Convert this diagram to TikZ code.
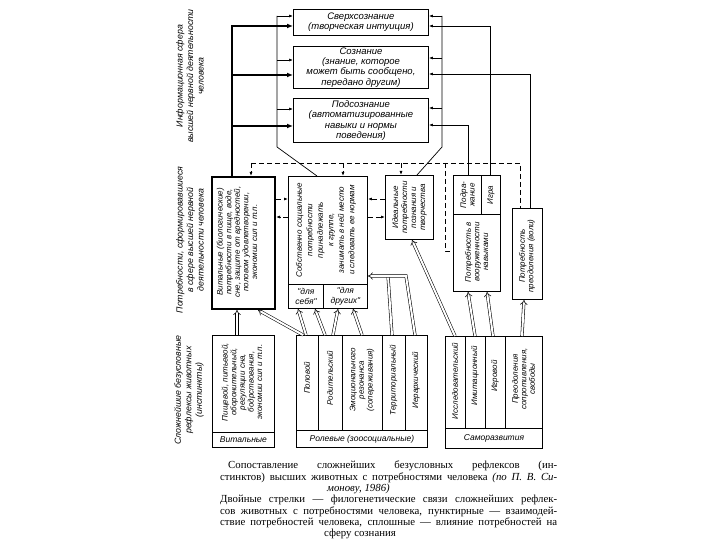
\documentclass[tikz,border=0pt]{standalone}
\usepackage{fontspec}
\setmainfont{Liberation Serif}
\newfontfamily\dfont{Liberation Sans}
\usetikzlibrary{arrows.meta}
\begin{document}
\begin{tikzpicture}[x=1pt,y=-1pt,
  box/.style={draw, line width=0.9pt, inner sep=0pt, anchor=north west},
  rt/.style={rotate=90, align=center, inner sep=0pt, font=\dfont\itshape\fontsize{8}{8.6}\selectfont},
  ht/.style={align=center, inner sep=0pt, font=\dfont\itshape\fontsize{9.5}{10.2}\selectfont},
  lab/.style={inner sep=0pt, font=\dfont\itshape\fontsize{8.5}{9}\selectfont},
  side/.style={rotate=90, align=center, inner sep=0pt, font=\dfont\itshape\fontsize{8.8}{10.5}\selectfont},
  thn/.style={line width=0.7pt},
  tip/.style={-{Latex[length=4pt,width=3pt]}},
  thk/.style={line width=1.8pt, -{Latex[length=6pt,width=5pt]}},
  dsh/.style={line width=0.8pt, dash pattern=on 5pt off 3pt},
  dbl/.style={double, double distance=2pt, line width=0.55pt, -{Implies}},
  dbln/.style={double, double distance=2pt, line width=0.55pt}
]
\path[use as bounding box, fill=white] (0,0) rectangle (720,540);

% ---------- top boxes ----------
\node[box, minimum width=135pt, minimum height=26pt] (sup) at (293,9) {};
\node[ht] (tsup) at (sup.center) {Сверхсознание\\(творческая интуиция)};
\node[box, minimum width=135pt, minimum height=42pt] (con) at (293,46) {};
\node[ht] (tcon) at (con.center) {Сознание\\(знание, которое\\может быть сообщено,\\передано другим)};
\node[box, minimum width=135pt, minimum height=44pt] (sub) at (293,98) {};
\node[ht] (tsub) at (sub.center) {Подсознание\\(автоматизированные\\навыки и нормы\\поведения)};

% ---------- middle row ----------
\node[box, line width=2pt, minimum width=63pt, minimum height=132pt] (vit) at (211,176) {};
\node[rt] (tvit) at (237,242) {Витальные (биологические)\\потребности в пище, воде,\\сне, защите от вредностей,\\половом удовлетворении,\\экономии сил и т.п.};

\node[box, minimum width=79pt, minimum height=132pt] (soc) at (288,176) {};
\node[box, minimum width=35pt, minimum height=24pt] (sself) at (288,284) {};
\node[box, minimum width=44pt, minimum height=24pt] (sother) at (323,284) {};
\node[ht, font=\dfont\itshape\fontsize{8.5}{9.5}\selectfont] (tsself) at (sself.center) {"для\\себя"};
\node[ht, font=\dfont\itshape\fontsize{8.5}{9.5}\selectfont] (tsother) at (sother.center) {"для\\других"};
\node[rt, font=\dfont\itshape\fontsize{8}{10.5}\selectfont] (tsoc) at (326,230) {Собственно социальные\\потребности\\принадлежать\\к группе,\\занимать в ней место\\и следовать ее нормам};

\node[box, minimum width=48pt, minimum height=64pt] (ide) at (385,175) {};
\node[rt, font=\dfont\itshape\fontsize{8}{9}\selectfont] (tide) at (ide.center) {Идеальные\\потребности\\познания и\\творчества};

\node[box, minimum width=47pt, minimum height=116pt] (arm) at (453,175) {};
\node[box, minimum width=28pt, minimum height=39pt] (imit) at (453,175) {};
\node[box, minimum width=19pt, minimum height=39pt] (play) at (481,175) {};
\node[rt] (timit) at (imit.center) {Подра-\\жание};
\node[rt] (tplay) at (play.center) {Игра};
\node[rt] (tarm) at (476.5,252) {Потребность в\\вооруженности\\навыками};

\node[box, minimum width=30pt, minimum height=91pt] (will) at (512,208) {};
\node[rt] (twill) at (527,256) {Потребность\\преодоления (воли)};

% ---------- bottom row ----------
\node[box, minimum width=62pt, minimum height=97pt] (bvit) at (212,335) {};
\node[box, minimum width=62pt, minimum height=15pt] (bvitl) at (212,432) {};
\node[rt] (tbvit) at (242,382) {Пищевой, питьевой,\\оборонительный,\\регуляции сна,\\бодрствования,\\экономии сил и т.п.};
\node[lab] (tbvitl) at (bvitl.center) {Витальные};

\node[box, minimum width=22pt, minimum height=95pt] (r1) at (296,335) {};
\node[box, minimum width=24pt, minimum height=95pt] (r2) at (318,335) {};
\node[box, minimum width=40pt, minimum height=95pt] (r3) at (342,335) {};
\node[box, minimum width=23pt, minimum height=95pt] (r4) at (382,335) {};
\node[box, minimum width=22pt, minimum height=95pt] (r5) at (405,335) {};
\node[box, minimum width=131pt, minimum height=17pt] (rl) at (296,430) {};
\node[rt] (tr1) at (307,378) {Половой};
\node[rt] (tr2) at (330,378) {Родительский};
\node[rt] (tr3) at (362,380) {Эмоционального\\резонанса\\(сопереживания)};
\node[rt] (tr4) at (393.5,380) {Территориальный};
\node[rt] (tr5) at (416,380) {Иерархический};
\node[lab] (trl) at (rl.center) {Ролевые (зоосоциальные)};

\node[box, minimum width=20pt, minimum height=92pt] (s1) at (445,336) {};
\node[box, minimum width=20pt, minimum height=92pt] (s2) at (465,336) {};
\node[box, minimum width=20pt, minimum height=92pt] (s3) at (485,336) {};
\node[box, minimum width=37pt, minimum height=92pt] (s4) at (505,336) {};
\node[box, minimum width=97pt, minimum height=20pt] (sl) at (445,428) {};
\node[rt] (ts1) at (455,381) {Исследовательский};
\node[rt] (ts2) at (475,376) {Имитационный};
\node[rt] (ts3) at (495,376) {Игровой};
\node[rt] (ts4) at (523.5,379) {Преодоления\\сопротивления,\\свободы};
\node[lab] (tsl) at (sl.center) {Саморазвития};

% ---------- side labels ----------
\node[side] (side1) at (190,76) {Информационная сфера\\высшей нервной деятельности\\человека};
\node[side] (side2) at (190,240) {Потребности, сформировавшиеся\\в сфере высшей нервной\\деятельности человека};
\node[side] (side3) at (189,390) {Сложнейшие безусловные\\рефлексы животных\\(инстинкты)};

% ---------- thick line to consciousness ----------
\coordinate (t1) at (232,26);
\coordinate (t2) at (232,75);
\coordinate (t3) at (232,126);
\draw[thk] (vit.north -| t1) -- (t1) -- (sup.west |- t1);
\draw[thk] (t2) -- (con.west |- t2);
\draw[thk] (t3) -- (sub.west |- t3);

% ---------- inner frames ----------
\coordinate (f1) at (277,16);
\coordinate (f2) at (277,60);
\coordinate (f3) at (277,109);
\coordinate (f4) at (277,147);
\coordinate (fs) at (317,0);
\draw[thn] (f1) -- (f4) -- (soc.north -| fs);
\draw[thn,tip] (f1) -- (sup.west |- f1);
\draw[thn,tip] (f2) -- (con.west |- f2);
\draw[thn,tip] (f3) -- (sub.west |- f3);

\coordinate (g1) at (442,16);
\coordinate (g2) at (442,58);
\coordinate (g3) at (442,108);
\coordinate (g4) at (442,147);
\coordinate (gs) at (417,0);
\draw[thn] (g1) -- (g4) -- (ide.north -| gs);
\draw[thn,tip] (g1) -- (sup.east |- g1);
\draw[thn,tip] (g2) -- (con.east |- g2);
\draw[thn,tip] (g3) -- (sub.east |- g3);

% ---------- right lines ----------
\coordinate (q1) at (490,26);
\coordinate (q2) at (530,74);
\coordinate (q3) at (468,125);
\draw[thn,tip] (arm.north -| q1) -- (q1) -- (sup.east |- q1);
\draw[thn,tip] (will.north -| q2) -- (q2) -- (con.east |- q2);
\draw[thn,tip] (arm.north -| q3) -- (q3) -- (sub.east |- q3);

% ---------- dashed interactions ----------
\coordinate (dA) at (251,163);
\coordinate (dB) at (343,163);
\coordinate (dC) at (401,163);
\coordinate (dD) at (445,163);
\coordinate (dD2) at (445,251);
\coordinate (dE) at (520,163);
\draw[dsh] (dA) -- (dE) -- (will.north -| dE);
\draw[dsh,tip] (dA) -- (vit.north -| dA);
\draw[dsh,tip] (dB) -- (soc.north -| dB);
\draw[dsh,tip] (dC) -- (ide.north -| dC);
\draw[dsh] (dD) -- (dD2) -- (arm.west |- dD2);

\coordinate (h1) at (0,199);
\coordinate (h2) at (0,217);
\draw[dsh,tip] (vit.east |- h1) -- (soc.west |- h1);
\draw[dsh,tip] (soc.west |- h2) -- (vit.east |- h2);
\draw[dsh,tip] (ide.west |- h1) -- (soc.east |- h1);
\draw[dsh,tip] (soc.east |- h2) -- (ide.west |- h2);

% ---------- double arrows (phylogenetic links) ----------
\coordinate (a1) at (237,0);
\draw[dbl] (bvit.north -| a1) -- (vit.south -| a1);
\draw[dbl] (r1.north -| {303,0}) -- (vit.south -| {258,0});
\draw[dbl] (r1.north -| {306,0}) -- (sself.south -| {298,0});
\draw[dbl] (r2.north -| {325,0}) -- (sself.south -| {315,0});
\draw[dbl] (r2.north -| {333,0}) -- (sother.south -| {338,0});
\draw[dbl] (r3.north -| {362,0}) -- (sother.south -| {353,0});
\coordinate (m1) at (388,276);
\coordinate (m2) at (406,276);
\draw[dbln] (r4.north -| {392,0}) -- (m1);
\draw[dbl] (r5.north -| {415,0}) -- (m2) -- (soc.east |- m2);
\draw[dbl] (s1.north -| {455,0}) -- (ide.south -| {412,0});
\draw[dbl] (s2.north -| {475,0}) -- (arm.south -| {468,0});
\draw[dbl] (s3.north -| {493,0}) -- (arm.south -| {487,0});
\draw[dbl] (s4.north -| {522,0}) -- (will.south -| {524,0});

% ---------- caption ----------
\node[anchor=north west, inner sep=0pt, align=left, font=\fontsize{10.8}{11.3}\selectfont] (cap) at (220,461) {%
\hspace*{8pt}\makebox[329pt][s]{Сопоставление сложнейших безусловных рефлексов (ин-}\\
\makebox[337pt][s]{стинктов) высших животных с потребностями человека \textit{(по П. В. Си-}}\\
\hspace*{107pt}\textit{монову, 1986)}\\
\makebox[337pt][s]{Двойные стрелки — филогенетические связи сложнейших рефлек-}\\
\makebox[337pt][s]{сов животных с потребностями человека, пунктирные — взаимодей-}\\
\makebox[337pt][s]{ствие потребностей человека, сплошные — влияние потребностей на}\\
\hspace*{104pt}сферу сознания};
\end{tikzpicture}
\end{document}
